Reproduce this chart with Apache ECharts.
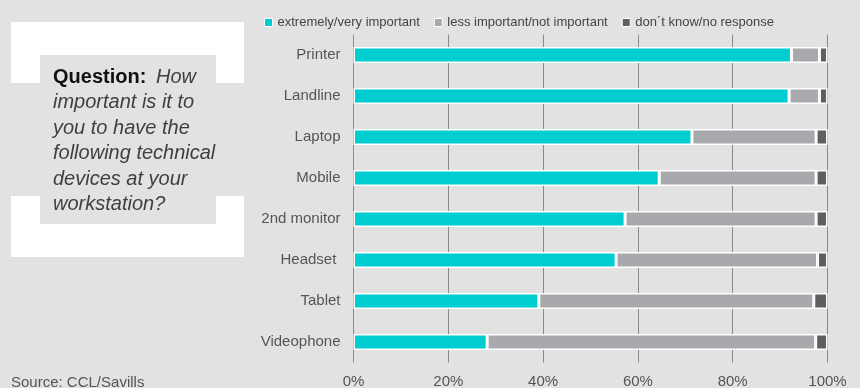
<!DOCTYPE html>
<html>
<head>
<meta charset="utf-8">
<script src="https://cdn.jsdelivr.net/npm/echarts@6/dist/echarts.min.js"></script>
<style>
  html, body { margin: 0; padding: 0; background: #e2e2e2; }
  #chart { width: 860px; height: 388px; }
</style>
</head>
<body>
<div id="chart"></div>
<script>
// Survey: importance of technical devices at the workstation (shares in %)
const categories = ['Printer', 'Landline', 'Laptop', 'Mobile', '2nd monitor', 'Headset ', 'Tablet', 'Videophone'];
const important = [92.4, 91.9, 71.4, 64.5, 57.3, 55.4, 39.1, 28.2];
const lessImportant = [5.9, 6.4, 26.2, 33.1, 40.3, 42.5, 58.0, 69.3];
const noResponse = [1.7, 1.7, 2.4, 2.4, 2.4, 2.1, 2.9, 2.5];
const seriesNames = ['extremely/very important', 'less important/not important', 'don\u00b4t know/no response'];
const xTicks = [0, 20, 40, 60, 80, 100];
const questionLines = ['How', 'important is it to', 'you to have the', 'following technical', 'devices at your', 'workstation?'];

const FONT = '"Liberation Sans"';
const colors = ['#00cdd0', '#a8a9ac', '#5f5f5f'];

const chart = echarts.init(document.getElementById('chart'), null, { renderer: 'canvas' });

function barSeries(name, data, color) {
  return {
    name: name,
    type: 'bar',
    stack: 'total',
    data: data,
    barWidth: 16,
    itemStyle: { color: color, borderColor: '#ffffff', borderWidth: 1.5 },
    emphasis: { disabled: true },
    animation: false
  };
}

// question panel text: bold label followed by italic lines
const LINE_H = 25.5;
const TEXT_X = 53;
const TEXT_Y = 77;
const questionText = [
  {
    type: 'text', x: TEXT_X, y: TEXT_Y, silent: true,
    style: { text: 'Question:', fontFamily: FONT, fontSize: 20, fontWeight: 'bold', fill: '#111111', verticalAlign: 'middle' }
  }
].concat(questionLines.map(function (line, i) {
  return {
    type: 'text',
    x: i === 0 ? TEXT_X + 103 : TEXT_X,
    y: TEXT_Y + i * LINE_H,
    silent: true,
    style: { text: line, fontFamily: FONT, fontSize: 20, fontStyle: 'italic', fill: '#404040', verticalAlign: 'middle' }
  };
}));

chart.setOption({
  backgroundColor: '#e2e2e2',
  animation: false,
  textStyle: { fontFamily: FONT },
  grid: { left: 353.5, right: 32.5, top: 34.5, bottom: 25.5, containLabel: false, outerBoundsMode: 'none' },
  legend: {
    left: 259,
    top: 11,
    itemWidth: 8,
    itemHeight: 8,
    itemGap: 14,
    icon: 'rect',
    itemStyle: { borderColor: '#ffffff', borderWidth: 1 },
    textStyle: { fontSize: 13, color: '#444444', fontFamily: FONT },
    data: seriesNames
  },
  xAxis: {
    type: 'value',
    min: xTicks[0],
    max: xTicks[xTicks.length - 1],
    interval: 20,
    axisLine: { show: false },
    axisTick: { show: false },
    splitLine: { show: true, lineStyle: { color: '#8a8a8a', width: 1 } },
    axisLabel: {
      formatter: '{value}%',
      fontSize: 15,
      color: '#555555',
      margin: 12,
      fontFamily: FONT
    }
  },
  yAxis: {
    type: 'category',
    data: categories,
    inverse: true,
    axisLine: { show: false },
    axisTick: { show: false },
    axisLabel: { fontSize: 15, color: '#555555', margin: 13, fontFamily: FONT }
  },
  series: [
    barSeries(seriesNames[0], important, colors[0]),
    barSeries(seriesNames[1], lessImportant, colors[1]),
    barSeries(seriesNames[2], noResponse, colors[2])
  ],
  graphic: [
    // bracket-style white frame around the question
    { type: 'rect', shape: { x: 11, y: 22, width: 233, height: 235 }, style: { fill: '#ffffff' }, silent: true },
    { type: 'rect', shape: { x: 40, y: 55, width: 176, height: 169 }, style: { fill: '#e2e2e2' }, silent: true },
    { type: 'rect', shape: { x: 11, y: 83, width: 29, height: 113 }, style: { fill: '#e2e2e2' }, silent: true },
    { type: 'rect', shape: { x: 216, y: 83, width: 28, height: 113 }, style: { fill: '#e2e2e2' }, silent: true },
    {
      type: 'text',
      left: 11,
      top: 375,
      silent: true,
      style: { text: 'Source: CCL/Savills', fontFamily: FONT, fontSize: 15, fill: '#555555' }
    }
  ].concat(questionText)
});
</script>
</body>
</html>
